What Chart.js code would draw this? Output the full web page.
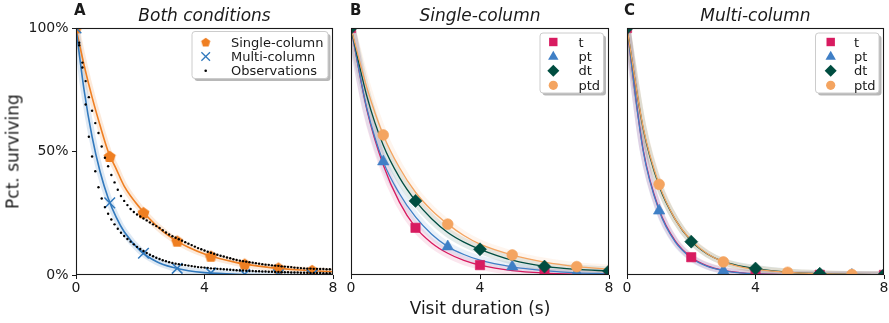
<!DOCTYPE html>
<html><head><meta charset="utf-8">
<script src="https://cdn.jsdelivr.net/npm/chart.js@4/dist/chart.umd.min.js"></script>
<style>
html,body{margin:0;padding:0;background:#fff}
#fig{position:relative;width:889px;height:323px;overflow:hidden;font-family:"DejaVu Sans",sans-serif;color:#1a1a1a}
.cv{position:absolute;top:0}
.tx{position:absolute;white-space:nowrap;z-index:5}
.ttl{font-style:italic;font-size:17px;line-height:17px;width:220px;text-align:center}
.let{font-weight:bold;font-size:15px;line-height:15px}
.lg{font-size:13px;line-height:13px}
</style></head><body>
<div id="fig">
<canvas id="cA" class="cv" style="left:0px" width="345" height="323"></canvas>
<canvas id="cB" class="cv" style="left:340px" width="280" height="323"></canvas>
<canvas id="cC" class="cv" style="left:616px" width="280" height="323"></canvas>
<div class="tx let" style="left:74px;top:3px">A</div>
<div class="tx let" style="left:350px;top:3px">B</div>
<div class="tx let" style="left:624px;top:3px">C</div>
<div class="tx ttl" style="left:94.5px;top:6.5px">Both conditions</div>
<div class="tx ttl" style="left:370px;top:6.5px">Single-column</div>
<div class="tx ttl" style="left:645.5px;top:6.5px">Multi-column</div>
<div class="tx" style="left:-86.8px;top:143px;width:200px;height:17px;line-height:17px;font-size:17px;text-align:center;transform:rotate(-90deg)">Pct. surviving</div>
<div class="tx" style="left:380px;top:300px;width:200px;line-height:17px;font-size:17px;text-align:center">Visit duration (s)</div>
<div id="legtext"></div>
</div>
<script>
// ---------------- data ----------------
const X_TICKS = [0, 4, 8];
const X_TICK_LABELS = ['0', '4', '8'];
const Y_TICKS = [0, 0.5, 1];
const Y_TICK_LABELS = ['0%', '50%', '100%'];

// Panel A: fitted survival curves
const fitXA = [0, 0.25, 0.5, 0.75, 1, 1.25, 1.5, 2, 2.5, 3, 3.5, 4, 5, 6, 7, 8];
const singleFit = [1, 0.85, 0.72, 0.605, 0.50, 0.43, 0.36, 0.27, 0.20, 0.148, 0.112, 0.085, 0.050, 0.031, 0.020, 0.013];
const multiFit  = [1, 0.75, 0.56, 0.418, 0.312, 0.234, 0.175, 0.098, 0.055, 0.031, 0.017, 0.0095, 0.003, 0.001, 0.0003, 0.0001];
// Panel A: marker positions on the fits
const markXA = [0, 1.05, 2.1, 3.15, 4.2, 5.25, 6.3, 7.35];
const singleMarks = [1, 0.48, 0.252, 0.137, 0.076, 0.044, 0.028, 0.018];
const multiMarks  = [1, 0.292, 0.088, 0.027, 0.0085, 0.0027, 0.001, 0.0003];
// Panel A: observed survival, sampled every 0.1 s from 0 to 8 s
const OBS_STEP = 0.1;
const singleObs = [1.00, 0.93, 0.86, 0.785, 0.72, 0.665, 0.615, 0.575, 0.52, 0.475,
  0.44, 0.405, 0.375, 0.345, 0.32, 0.30, 0.283, 0.267, 0.255, 0.245,
  0.237, 0.229, 0.221, 0.213, 0.205, 0.198, 0.19, 0.181, 0.172, 0.164,
  0.157, 0.151, 0.145, 0.139, 0.133, 0.127, 0.121, 0.115, 0.109, 0.104,
  0.099, 0.094, 0.090, 0.086, 0.082, 0.078, 0.075, 0.071, 0.068, 0.064,
  0.061, 0.058, 0.056, 0.054, 0.052, 0.050, 0.048, 0.046, 0.044, 0.042,
  0.041, 0.039, 0.038, 0.037, 0.035, 0.034, 0.033, 0.032, 0.030, 0.029,
  0.028, 0.027, 0.026, 0.026, 0.025, 0.025, 0.024, 0.024, 0.023, 0.023, 0.023];
const multiObs = [1.00, 0.94, 0.84, 0.69, 0.56, 0.48, 0.42, 0.355, 0.31, 0.275,
  0.248, 0.225, 0.205, 0.187, 0.171, 0.158, 0.146, 0.135, 0.124, 0.114,
  0.105, 0.097, 0.089, 0.082, 0.076, 0.070, 0.065, 0.060, 0.056, 0.052,
  0.049, 0.046, 0.044, 0.042, 0.040, 0.038, 0.036, 0.034, 0.032, 0.031,
  0.030, 0.029, 0.027, 0.026, 0.025, 0.024, 0.023, 0.022, 0.021, 0.020,
  0.019, 0.018, 0.018, 0.017, 0.016, 0.016, 0.015, 0.015, 0.014, 0.014,
  0.013, 0.013, 0.012, 0.012, 0.011, 0.011, 0.011, 0.010, 0.010, 0.010,
  0.009, 0.009, 0.009, 0.008, 0.008, 0.008, 0.008, 0.007, 0.007, 0.007, 0.007];

// Panels B and C: model fits
const MODELS = ['t', 'pt', 'dt', 'ptd'];
const fitXBC = [0, 0.5, 1, 1.5, 2, 2.5, 3, 3.5, 4, 5, 6, 7, 8];
const singleT   = [1, 0.665, 0.445, 0.295, 0.193, 0.13, 0.088, 0.059, 0.040, 0.018, 0.008, 0.0035, 0.0015];
const singlePT  = [1, 0.67, 0.459, 0.33, 0.235, 0.165, 0.115, 0.083, 0.060, 0.033, 0.018, 0.009, 0.005];
const singleDT  = [1, 0.72, 0.525, 0.395, 0.30, 0.228, 0.172, 0.133, 0.104, 0.060, 0.035, 0.023, 0.016];
const singlePTD = [1, 0.755, 0.567, 0.435, 0.335, 0.262, 0.206, 0.160, 0.125, 0.081, 0.052, 0.034, 0.024];
const multiT    = [1, 0.51, 0.265, 0.138, 0.072, 0.037, 0.019, 0.010, 0.005, 0.0015, 0.0005, 0.0002, 0.0001];
const multiPT   = [1, 0.505, 0.26, 0.134, 0.069, 0.035, 0.018, 0.009, 0.0045, 0.0013, 0.0004, 0.0001, 0];
const multiDT   = [1, 0.595, 0.36, 0.225, 0.137, 0.085, 0.054, 0.037, 0.026, 0.012, 0.005, 0.002, 0.001];
const multiPTD  = [1, 0.60, 0.367, 0.226, 0.14, 0.086, 0.053, 0.034, 0.023, 0.011, 0.005, 0.002, 0.001];
// Panels B and C: marker positions
const evenX = [0, 2, 4, 6, 8];
const oddX  = [1, 3, 5, 7];
const singleTMarks   = [1, 0.191, 0.040, 0.009, 0.0015];
const singlePTMarks  = [0.459, 0.115, 0.034, 0.009];
const singleDTMarks  = [1, 0.30, 0.104, 0.034, 0.016];
const singlePTDMarks = [0.567, 0.206, 0.081, 0.034];
const multiTMarks    = [1, 0.072, 0.006, 0.001, 0.0003];
const multiPTMarks   = [0.26, 0.017, 0.001, 0.0001];
const multiDTMarks   = [1, 0.135, 0.026, 0.005, 0.001];
const multiPTDMarks  = [0.367, 0.053, 0.011, 0.002];

// ---------------- styles ----------------
const C_OR = '#ef7f22', C_BL = '#3179bd';
const C_T = '#d81b60', C_PT = '#3f7fc6', C_DT = '#004d40', C_PTD = '#f4a460';
function rgba(hex, a) { const n = parseInt(hex.slice(1), 16); return `rgba(${n>>16},${(n>>8)&255},${n&255},${a})`; }

function pentagon(r, color) {
  const s = Math.ceil(2 * r + 2);
  const c = document.createElement('canvas'); c.width = s; c.height = s;
  const g = c.getContext('2d'); g.fillStyle = color; g.beginPath();
  for (let k = 0; k < 5; k++) {
    const a = -Math.PI / 2 + k * 2 * Math.PI / 5;
    const px = s / 2 + r * Math.cos(a), py = s / 2 + 0.5 + r * Math.sin(a);
    k ? g.lineTo(px, py) : g.moveTo(px, py);
  }
  g.closePath(); g.fill();
  return c;
}

const pts = (xs, ys) => xs.map((x, i) => ({ x: x, y: ys[i] }));
const obsPts = ys => ys.map((y, i) => ({ x: i * OBS_STEP, y: y }));

function lineDs(data, color, width, order) {
  return { data, showLine: true, borderColor: color, borderWidth: width, pointRadius: 0,
    cubicInterpolationMode: 'monotone', fill: false, order };
}
function markDs(data, style, color, r, order, bw) {
  return { data, showLine: false, pointStyle: style, pointRadius: r,
    pointBackgroundColor: color, pointBorderColor: color, pointBorderWidth: bw === undefined ? 0.6 : bw, order };
}

// ---------------- decorations plugin (box + legend) ----------------
function drawMark(ctx, m, x, y) {
  ctx.save();
  ctx.fillStyle = m.color; ctx.strokeStyle = m.color; ctx.lineWidth = m.lw || 1;
  const r = m.r;
  ctx.beginPath();
  if (m.shape === 'pent') { const img = pentagon(r, m.color); ctx.drawImage(img, x - img.width / 2, y - img.height / 2); ctx.restore(); return; }
  if (m.shape === 'x') { ctx.moveTo(x - r, y - r); ctx.lineTo(x + r, y + r); ctx.moveTo(x - r, y + r); ctx.lineTo(x + r, y - r); ctx.stroke(); ctx.restore(); return; }
  if (m.shape === 'sq') ctx.rect(x - r, y - r, 2 * r, 2 * r);
  if (m.shape === 'tri') { ctx.moveTo(x, y - r); ctx.lineTo(x + r * 0.866, y + r * 0.5); ctx.lineTo(x - r * 0.866, y + r * 0.5); ctx.closePath(); }
  if (m.shape === 'dia') { ctx.moveTo(x, y - r); ctx.lineTo(x + r, y); ctx.lineTo(x, y + r); ctx.lineTo(x - r, y); ctx.closePath(); }
  if (m.shape === 'dot') ctx.arc(x, y, r, 0, Math.PI * 2);
  ctx.fill();
  ctx.restore();
}
function rrect(ctx, x, y, w, h, r) {
  ctx.beginPath(); ctx.moveTo(x + r, y); ctx.lineTo(x + w - r, y); ctx.quadraticCurveTo(x + w, y, x + w, y + r);
  ctx.lineTo(x + w, y + h - r); ctx.quadraticCurveTo(x + w, y + h, x + w - r, y + h);
  ctx.lineTo(x + r, y + h); ctx.quadraticCurveTo(x, y + h, x, y + h - r);
  ctx.lineTo(x, y + r); ctx.quadraticCurveTo(x, y, x + r, y); ctx.closePath();
}
const deco = {
  id: 'deco',
  afterDraw(chart, args, o) {
    const ctx = chart.ctx, a = chart.chartArea;
    if (o.legend) {
      const L = o.legend, ox = o.offsetX;
      const bx = L.box[0] - ox, by = L.box[1], bw = L.box[2], bh = L.box[3];
      ctx.save();
      rrect(ctx, bx + 2.5, by + 2.5, bw, bh, 3); ctx.fillStyle = 'rgba(0,0,0,0.28)'; ctx.fill();
      rrect(ctx, bx, by, bw, bh, 3); ctx.fillStyle = '#ffffff'; ctx.fill();
      ctx.strokeStyle = '#cccccc'; ctx.lineWidth = 1; ctx.stroke();
      ctx.restore();
      L.items.forEach((it, i) => drawMark(ctx, it, L.markX - ox, L.rows[i]));
    }
    ctx.save(); ctx.strokeStyle = '#1a1a1a'; ctx.lineWidth = 1.1;
    ctx.strokeRect(Math.round(a.left) + 0.5, Math.round(a.top) + 0.5, Math.round(a.right - a.left) - 1, Math.round(a.bottom - a.top) - 1);
    ctx.restore();
  }
};

function scalesFor(showY) {
  const tickFont = { family: 'DejaVu Sans', size: 14 };
  return {
    x: { type: 'linear', min: 0, max: 8,
      afterBuildTicks: s => { s.ticks = X_TICKS.map(v => ({ value: v })); },
      afterFit: s => { s.height = 48; },
      ticks: { callback: (v, i) => X_TICK_LABELS[i], font: tickFont, color: '#1a1a1a', padding: 1, maxRotation: 0, autoSkip: false },
      grid: { drawOnChartArea: false, drawTicks: true, tickLength: 4, color: '#1a1a1a', lineWidth: 1 },
      border: { display: false } },
    y: { type: 'linear', min: 0, max: 1, display: showY,
      afterBuildTicks: s => { s.ticks = Y_TICKS.map(v => ({ value: v })); },
      afterFit: s => { s.width = showY ? 76 : 0; },
      ticks: { callback: (v, i) => Y_TICK_LABELS[i], font: tickFont, color: '#1a1a1a', padding: 3.5 },
      grid: { drawOnChartArea: false, drawTicks: true, tickLength: 4, color: '#1a1a1a', lineWidth: 1 },
      border: { display: false } }
  };
}

function makeChart(id, datasets, padding, showY, legend, offsetX) {
  return new Chart(document.getElementById(id), {
    type: 'scatter',
    data: { datasets },
    options: {
      responsive: false, animation: false, devicePixelRatio: 1, events: [],
      layout: { padding },
      scales: scalesFor(showY),
      plugins: { legend: { display: false }, tooltip: { enabled: false }, deco: { legend, offsetX } }
    },
    plugins: [deco]
  });
}

// legend text (HTML)
const legTextDiv = document.getElementById('legtext');
function legendText(labels, left, rows) {
  labels.forEach((t, i) => {
    const d = document.createElement('div'); d.className = 'tx lg'; d.textContent = t;
    d.style.left = left + 'px'; d.style.top = (rows[i] - 6.5) + 'px'; legTextDiv.appendChild(d);
  });
}

// ---------------- Panel A ----------------
const LEG_A = ['Single-column', 'Multi-column', 'Observations'];
const rowsA = [42, 56.5, 70.7];
makeChart('cA', [
  lineDs(pts(fitXA, singleFit), rgba(C_OR, 0.16), 7, 30),
  lineDs(pts(fitXA, multiFit), rgba(C_BL, 0.16), 7, 29),
  lineDs(pts(fitXA, singleFit), C_OR, 1.6, 20),
  lineDs(pts(fitXA, multiFit), C_BL, 1.6, 19),
  markDs(pts(markXA, singleMarks), pentagon(6.3, C_OR), C_OR, 6, 10),
  markDs(pts(markXA, multiMarks), 'crossRot', C_BL, 7.5, 9, 1.5),
  markDs(obsPts(singleObs), 'circle', '#000', 1.2, 2, 0),
  markDs(obsPts(multiObs), 'circle', '#000', 1.2, 1, 0)
], { left: 0, top: 28, right: 12, bottom: 0 }, true, {
  box: [192, 31.5, 136, 47], markX: 205.7, rows: rowsA,
  items: [{ shape: 'pent', color: C_OR, r: 4.8 }, { shape: 'x', color: C_BL, r: 4.3, lw: 1.3 }, { shape: 'dot', color: '#000', r: 1.3 }]
}, 0);
legendText(LEG_A, 231, rowsA);

// ---------------- Panels B & C ----------------
const rowsBC = [42, 56.7, 70.8, 85.3];
const legItemsBC = [{ shape: 'sq', color: C_T, r: 4.2 }, { shape: 'tri', color: C_PT, r: 6 }, { shape: 'dia', color: C_DT, r: 6 }, { shape: 'dot', color: C_PTD, r: 4.6 }];
function modelSets(curves, marks, glowW, glowA) {
  const cols = [C_T, C_PT, C_DT, C_PTD];
  const ds = [];
  curves.forEach((c, i) => ds.push(lineDs(pts(fitXBC, c), rgba(cols[i], glowA), glowW, 40 - i)));
  curves.forEach((c, i) => ds.push(lineDs(pts(fitXBC, c), cols[i], 1.3, 30 - i)));
  ds.push(markDs(pts(evenX, marks[0]), 'rect', C_T, 6.6, 14));
  ds.push(markDs(pts(oddX, marks[1]), 'triangle', C_PT, 6.6, 13));
  ds.push(markDs(pts(evenX, marks[2]), 'rectRot', C_DT, 6.5, 12));
  ds.push(markDs(pts(oddX, marks[3]), 'circle', C_PTD, 5.4, 11));
  return ds;
}
makeChart('cB', modelSets([singleT, singlePT, singleDT, singlePTD],
  [singleTMarks, singlePTMarks, singleDTMarks, singlePTDMarks], 9, 0.11),
  { left: 11, top: 28, right: 11, bottom: 0 }, false,
  { box: [540, 33, 63.5, 60], markX: 553.3, rows: rowsBC, items: legItemsBC }, 340);
legendText(MODELS, 578.5, rowsBC);

makeChart('cC', modelSets([multiT, multiPT, multiDT, multiPTD],
  [multiTMarks, multiPTMarks, multiDTMarks, multiPTDMarks], 7, 0.14),
  { left: 11, top: 28, right: 12, bottom: 0 }, false,
  { box: [815.5, 33, 63.5, 60], markX: 830.7, rows: rowsBC, items: legItemsBC }, 616);
legendText(MODELS, 854, rowsBC);
</script>
</body></html>
